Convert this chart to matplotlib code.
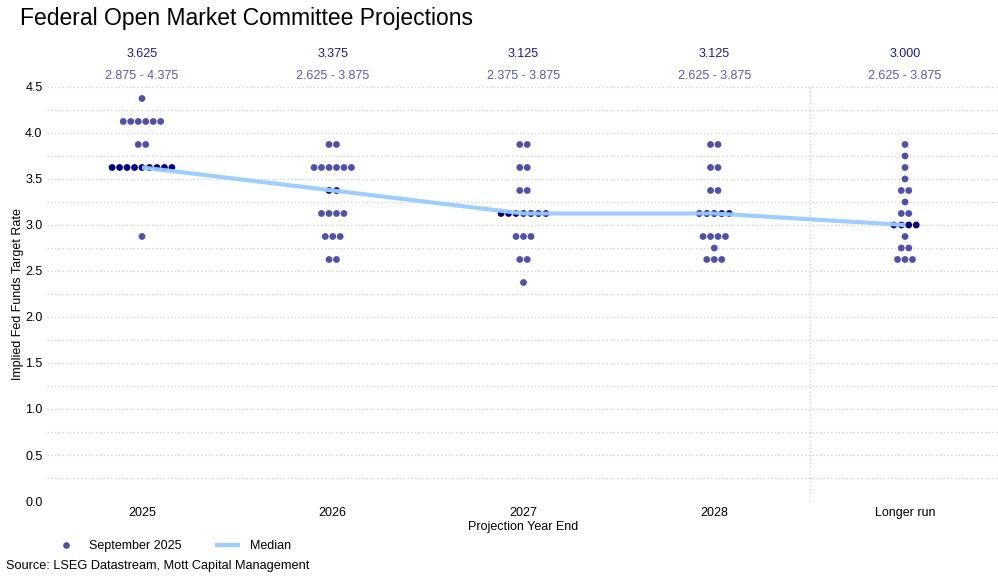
import numpy as np
import matplotlib
matplotlib.use('Agg')
import matplotlib.pyplot as plt
from matplotlib.lines import Line2D
from matplotlib.transforms import blended_transform_factory

# ---------------------------------------------------------#
# Data: individual FOMC participant projections (Sep 2025) #
# ---------------------------------------------------------#
categories = ['2025', '2026', '2027', '2028', 'Longer run']

proj_2025 = [4.375] + [4.125]*6 + [3.875]*2 + [3.625]*9 + [2.875]
proj_2026 = [3.875]*2 + [3.625]*6 + [3.375]*2 + [3.125]*4 + [2.875]*3 + [2.625]*2
proj_2027 = [3.875]*2 + [3.625]*2 + [3.375]*2 + [3.125]*7 + [2.875]*3 + [2.625]*2 + [2.375]
proj_2028 = [3.875]*2 + [3.625]*2 + [3.375]*2 + [3.125]*5 + [2.875]*4 + [2.75] + [2.625]*3
proj_long = [3.875, 3.75, 3.625, 3.5] + [3.375]*2 + [3.25] + [3.125]*2 + [3.0]*4 \
            + [2.875] + [2.75]*2 + [2.625]*3
projections = [proj_2025, proj_2026, proj_2027, proj_2028, proj_long]

medians = [np.median(p) for p in projections]

# ---------------------------------------------------------#
# Styles                                                   #
# ---------------------------------------------------------#
plt.rcParams['font.family'] = ['Liberation Sans', 'DejaVu Sans']
color_dot    = '#5050a8'
color_median = '#000080'
color_line   = '#99ccff'
color_hdr1   = '#1a1a8c'
color_hdr2   = '#5858b0'
dot_step     = 0.0392          # horizontal spacing of stacked dots (data units)

fig = plt.figure(figsize=(9.98, 5.76), dpi=100)
ax  = fig.add_axes([0.0467, 0.1302, 0.9557, 0.7188])

# ---------------------------------------------------------#
# Dots                                                     #
# ---------------------------------------------------------#
for i, vals in enumerate(projections):
    levels, counts = np.unique(vals, return_counts=True)
    for lev, cnt in zip(levels, counts):
        xs = i + (np.arange(cnt) - (cnt - 1) / 2) * dot_step
        c = color_median if lev == medians[i] else color_dot
        ax.scatter(xs, [lev]*cnt, s=24, color=c, edgecolors='none', zorder=3)

ax.plot(range(len(categories)), medians, color=color_line, lw=3,
        alpha=0.95, zorder=4, solid_capstyle='butt')

# header: median and range
trans = blended_transform_factory(ax.transData, ax.transAxes)
for i, vals in enumerate(projections):
    ax.text(i, 1.0797, '%.3f' % medians[i], transform=trans, ha='center',
            va='center', fontsize=9, color=color_hdr1)
    ax.text(i, 1.0263, '%.3f - %.3f' % (min(vals), max(vals)), transform=trans,
            ha='center', va='center', fontsize=9, color=color_hdr2)

# separator before "Longer run"
ax.axvline(3.5, color='#cccccc', lw=0.9, ls=(0, (1, 2)), zorder=1)

# ---------------------------------------------------------#
# Axes                                                     #
# ---------------------------------------------------------#
ax.set_xlim(-0.5, 4.5)
ax.set_ylim(0, 4.5)
ax.set_xticks(range(len(categories)))
ax.set_xticklabels(categories)
ax.set_yticks(np.arange(0, 4.51, 0.5))
ax.set_yticks(np.arange(0.25, 4.5, 0.5), minor=True)
ax.yaxis.set_major_formatter(matplotlib.ticker.FormatStrFormatter('%.1f'))
ax.grid(axis='y', which='both', color='#cccccc', lw=0.9, ls=(0, (1, 2)), zorder=0)
ax.tick_params(axis='both', which='both', length=0, labelsize=9, pad=4)
ax.tick_params(axis='y', pad=3)
for s in ax.spines.values():
    s.set_visible(False)
ax.set_xlabel('Projection Year End', fontsize=9, labelpad=2)
ax.set_ylabel('Implied Fed Funds Target Rate', fontsize=9, labelpad=1)

fig.text(20/998, 1 - 19/576, 'Federal Open Market Committee Projections',
         fontsize=16.5, ha='left', va='center')

handles = [Line2D([], [], marker='o', ls='none', color=color_dot, markersize=4.8,
                  markeredgewidth=0),
           Line2D([], [], color=color_line, lw=3, solid_capstyle='butt')]
fig.legend(handles, ['September 2025', 'Median'], loc='center left',
           bbox_to_anchor=(42.5/998, 1 - 546/576), ncol=2, frameon=False,
           fontsize=9, handlelength=2.0, columnspacing=2.7, handletextpad=0.8)

fig.text(6/998, 1 - 566/576, 'Source: LSEG Datastream, Mott Capital Management',
         fontsize=9.2, ha='left', va='center')

fig.savefig('out.png', dpi=100)
